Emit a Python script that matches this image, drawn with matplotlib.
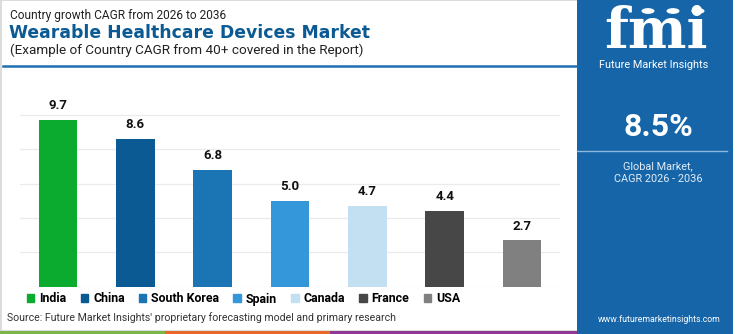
import numpy as np
import matplotlib.pyplot as plt
from matplotlib.patches import Rectangle, Circle
from matplotlib.lines import Line2D

W, H = 750, 334

countries = ['India', 'China', 'South Korea', 'Spain', 'Canada', 'France', 'USA']
cagr = [9.7, 8.6, 6.8, 5.0, 4.7, 4.4, 2.7]
colors = ['#0aab2e', '#0b5a94', '#1b75b5', '#3497d9', '#c3e0f2', '#474747', '#808080']

global_cagr = '8.5%'
title_top = 'Country growth CAGR from 2026 to 2036'
title_main = 'Wearable Healthcare Devices Market'
title_sub = '(Example of Country CAGR from 40+ covered in the Report)'
source = "Source: Future Market Insights' proprietary forecasting model and primary research"

PANEL = '#1565a8'
FONT = 'Roboto'


def fx(x):
    return x / W


def fy(y):
    return 1 - y / H


fig = plt.figure(figsize=(W / 100, H / 100), dpi=100)
fig.patch.set_facecolor('white')

# outer frame of the white area + bottom colour strip
fig.add_artist(Rectangle((fx(0.5), fy(331)), fx(577), 331 / H, transform=fig.transFigure,
                         fill=False, ec='#d6d6d6', lw=1.2))
for x0, x1, c in [(0, 165, '#7ab648'), (165, 330, '#e8692c'), (330, 577, '#8e3a92')]:
    fig.add_artist(Rectangle((fx(x0), 0), fx(x1 - x0), 3.5 / H, transform=fig.transFigure,
                             color=c, lw=0))

# titles
fig.text(fx(10), fy(15), title_top, fontsize=8.6, family=FONT, color='#222222', va='center')
fig.text(fx(9), fy(33), title_main, fontsize=12.4, family='DejaVu Sans', weight='bold',
         color='#0b5a94', va='center')
fig.text(fx(10), fy(50), title_sub, fontsize=9.7, family=FONT, color='#222222', va='center')
fig.add_artist(Line2D([fx(3), fx(577)], [fy(65.5), fy(65.5)], transform=fig.transFigure,
                      color='#1f6fb0', lw=1.8))

# bar chart
ax = fig.add_axes([fx(20), fy(286.7), fx(540), (286.7 - 80.3) / H])
x = np.arange(len(countries))
ax.bar(x, cagr, width=0.5, color=colors, zorder=3)
for xi, v in zip(x, cagr):
    ax.text(xi, v + 0.45, f'{v:.1f}', ha='center', va='bottom', fontsize=9.5,
            family=FONT, weight='bold', color='#111111')
ax.set_xlim(-0.49, 6.49)
ax.set_ylim(0, 12)
ax.set_yticks(np.arange(0, 11, 2))
ax.yaxis.grid(True, color='#ebebeb', lw=0.9, zorder=0)
ax.set_xticks([])
ax.tick_params(left=False, labelleft=False)
for s in ax.spines.values():
    s.set_visible(False)

handles = [Rectangle((0, 0), 1, 1, color=c) for c in colors]
fig.legend(handles, countries, loc='center left', bbox_to_anchor=(fx(27), fy(299)),
           ncol=7, frameon=False, handlelength=0.6, handleheight=0.6,
           handletextpad=0.4, columnspacing=1.15, borderaxespad=0, borderpad=0,
           prop={'family': FONT, 'weight': 'bold', 'size': 8.9})

fig.text(fx(7), fy(318), source, fontsize=7.6, family=FONT, color='#333333', va='center')

# side panel
fig.add_artist(Rectangle((fx(577), 0), fx(156), 1, transform=fig.transFigure,
                         color=PANEL, lw=0))
fig.text(fx(656), fy(32), 'fmi', fontsize=40, family='DejaVu Serif', weight='bold',
         color='white', ha='center', va='center')
for yy in np.arange(19, 56, 4.2):
    fig.add_artist(Line2D([fx(598), fx(722)], [fy(yy), fy(yy)], transform=fig.transFigure,
                          color=PANEL, lw=1.0))
for cx in [648, 673, 698]:
    fig.add_artist(Circle((fx(cx), fy(11)), 6.5 / W, transform=fig.transFigure,
                          color='white', lw=0))
fig.text(fx(654), fy(65), 'Future Market Insights', fontsize=7.8, family=FONT,
         color='white', ha='center', va='center')
fig.text(fx(658), fy(127), global_cagr, fontsize=23, family=FONT, weight='bold',
         color='white', ha='center', va='center')
fig.add_artist(Line2D([fx(577), fx(727)], [fy(150.5), fy(150.5)], transform=fig.transFigure,
                      color='#8fb8dc', lw=1))
fig.text(fx(658), fy(166), 'Global Market,', fontsize=7.8, family=FONT,
         color='#e3edf7', ha='center', va='center')
fig.text(fx(658), fy(179), 'CAGR 2026 - 2036', fontsize=7.8, family=FONT,
         color='#e3edf7', ha='center', va='center')
fig.text(fx(659), fy(319), 'www.futuremarketinsights.com', fontsize=6.3, family=FONT,
         color='white', ha='center', va='center')

fig.savefig('out.png', dpi=100)
